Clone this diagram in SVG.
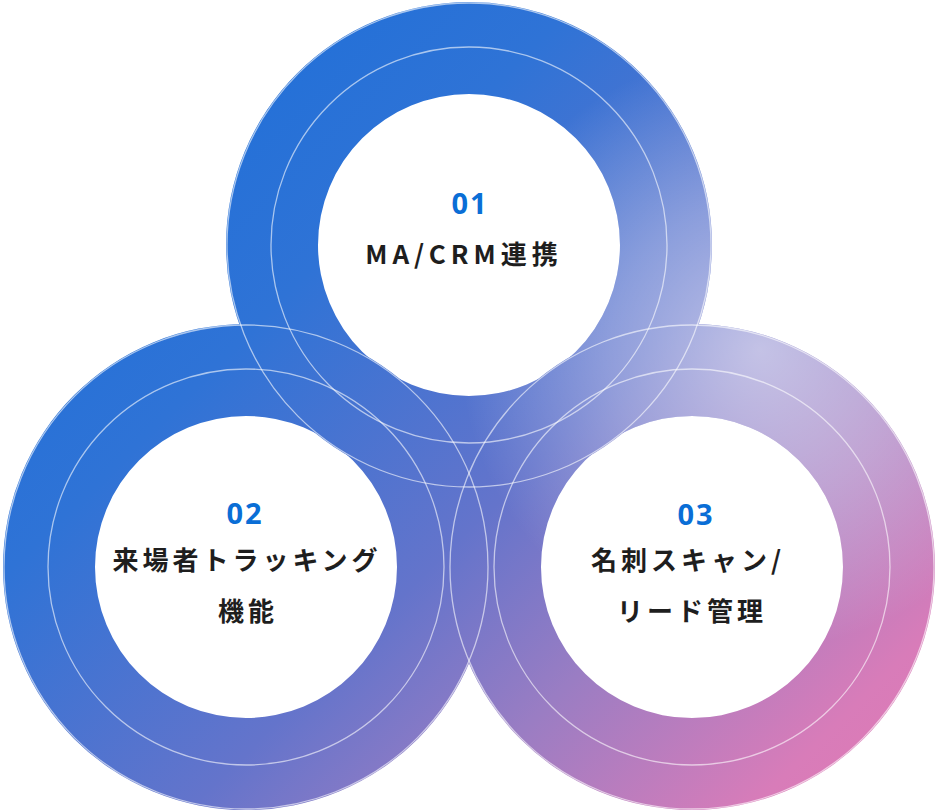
<svg xmlns="http://www.w3.org/2000/svg" width="940" height="812" viewBox="0 0 940 812">
  <defs>
    <linearGradient id="grad" gradientUnits="userSpaceOnUse" x1="150" y1="150" x2="850" y2="850">
      <stop offset="0" stop-color="#2270d8"/>
      <stop offset="0.2" stop-color="#2f73d6"/>
      <stop offset="0.5" stop-color="#6474cb"/>
      <stop offset="0.68" stop-color="#9a7dc3"/>
      <stop offset="0.9" stop-color="#d87cb9"/>
      <stop offset="1" stop-color="#e07ab5"/>
    </linearGradient>
    <radialGradient id="glow" gradientUnits="userSpaceOnUse" cx="760" cy="350" r="300">
      <stop offset="0" stop-color="#ffffff" stop-opacity="0.55"/>
      <stop offset="0.5" stop-color="#ffffff" stop-opacity="0.3"/>
      <stop offset="1" stop-color="#ffffff" stop-opacity="0"/>
    </radialGradient>
    <style>
      .ring { fill: url(#grad); fill-rule: evenodd; }
      .glow { fill: url(#glow); fill-rule: nonzero; }
      .line { fill: none; stroke: #ffffff; stroke-opacity: 0.6; stroke-width: 1.3; }
      .num { font-family: "Noto Sans", "Liberation Sans", sans-serif; font-weight: 700; font-size: 29px; fill: #0a6ed6; text-anchor: middle; letter-spacing: 2px; }
      .label { font-family: "Noto Sans CJK JP", "Noto Sans", sans-serif; font-weight: 700; font-size: 26px; fill: #1e1e1e; text-anchor: middle; letter-spacing: 4px; }
    </style>
  </defs>

  <g id="node-01">
    <path class="ring" d="M226,245 a243,243 0 1,0 486,0 a243,243 0 1,0 -486,0 Z M318,245 a151,151 0 1,0 302,0 a151,151 0 1,0 -302,0 Z"/>
    <text class="num" x="470" y="214">01</text>
    <text class="label" x="464" y="264" style="letter-spacing:5px">MA/CRM連携</text>
  </g>

  <g id="node-02">
    <path class="ring" d="M3,567 a243,243 0 1,0 486,0 a243,243 0 1,0 -486,0 Z M95,567 a151,151 0 1,0 302,0 a151,151 0 1,0 -302,0 Z"/>
    <text class="num" x="245" y="524">02</text>
    <text class="label" x="247" y="570">来場者トラッキング</text>
    <text class="label" x="248" y="621">機能</text>
  </g>

  <g id="node-03">
    <path class="ring" d="M449,567 a243,243 0 1,0 486,0 a243,243 0 1,0 -486,0 Z M541,567 a151,151 0 1,0 302,0 a151,151 0 1,0 -302,0 Z"/>
    <text class="num" x="696" y="525">03</text>
    <text class="label" x="688" y="570">名刺スキャン/</text>
    <text class="label" x="692" y="621">リード管理</text>
  </g>

  <g id="highlight">
    <path class="glow" d="M226,245 a243,243 0 1,1 486,0 a243,243 0 1,1 -486,0 Z M318,245 a151,151 0 1,0 302,0 a151,151 0 1,0 -302,0 Z M3,567 a243,243 0 1,1 486,0 a243,243 0 1,1 -486,0 Z M95,567 a151,151 0 1,0 302,0 a151,151 0 1,0 -302,0 Z M449,567 a243,243 0 1,1 486,0 a243,243 0 1,1 -486,0 Z M541,567 a151,151 0 1,0 302,0 a151,151 0 1,0 -302,0 Z"/>
  </g>

  <g id="ring-lines">
    <circle class="line" cx="469" cy="245" r="198"/>
    <circle class="line" cx="469" cy="245" r="242"/>
    <circle class="line" cx="246" cy="567" r="198"/>
    <circle class="line" cx="246" cy="567" r="242"/>
    <circle class="line" cx="692" cy="567" r="198"/>
    <circle class="line" cx="692" cy="567" r="242"/>
  </g>
</svg>
